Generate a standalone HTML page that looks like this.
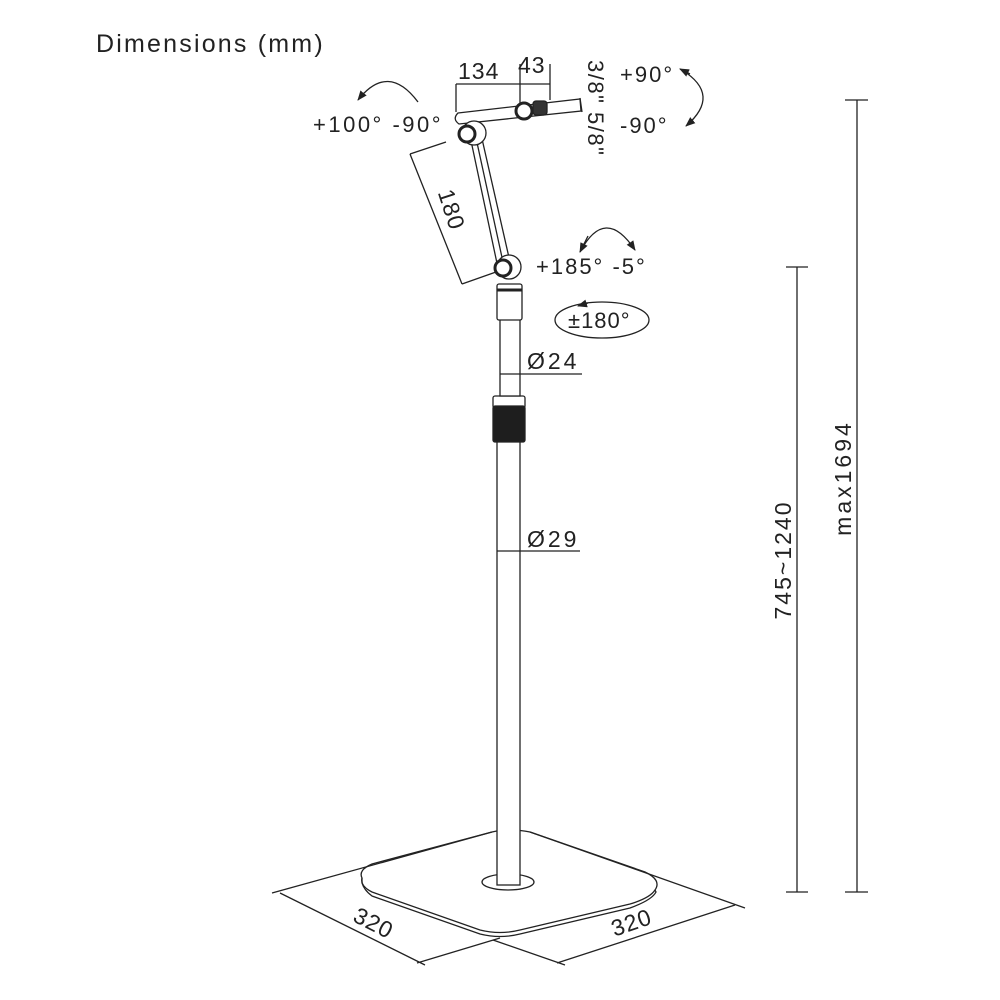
<!DOCTYPE html>
<html><head><meta charset="utf-8"><style>
html,body{margin:0;padding:0;background:#fff;}
svg{display:block;}
text{font-family:"Liberation Sans",sans-serif;fill:#222;}
</style></head><body>
<svg width="1000" height="1000" viewBox="0 0 1000 1000" xmlns="http://www.w3.org/2000/svg">
<defs>
<marker id="ah" markerWidth="10" markerHeight="8" refX="9" refY="4" orient="auto" markerUnits="userSpaceOnUse">
<path d="M0,0 L10,4 L0,8 Z" fill="#222"/></marker>
</defs>
<g stroke="#222" fill="none" stroke-width="1.3">
<text x="96" y="52" font-size="25" letter-spacing="2.2" stroke="none">Dimensions (mm)</text>

<!-- vertical dims -->
<line x1="857" y1="100" x2="857" y2="892"/>
<line x1="845" y1="100" x2="868" y2="100"/>
<line x1="845" y1="892" x2="868" y2="892"/>
<line x1="797" y1="267" x2="797" y2="892"/>
<line x1="786" y1="267" x2="808" y2="267"/>
<line x1="786" y1="892" x2="808" y2="892"/>
<text transform="translate(851,478) rotate(-90)" text-anchor="middle" font-size="23" letter-spacing="3" stroke="none">max1694</text>
<text transform="translate(791,560) rotate(-90)" text-anchor="middle" font-size="23" letter-spacing="2" stroke="none">745~1240</text>

<!-- base -->
<path d="M362,878 Q358,870 372,864 L492,832 Q510,828 530,832 L645,872 Q662,880 655,890 Q650,898 630,904 L520,930 Q500,935 480,930 L372,892 Q360,886 362,878 Z" fill="#fff"/>
<path d="M362,878 L362,883 Q364,890 372,896 L480,934 Q500,939 520,934 L630,908 Q652,900 656,892 L655,890"/>
<ellipse cx="508" cy="882" rx="26" ry="8" fill="#fff"/>
<line x1="272" y1="893" x2="492" y2="832"/>
<line x1="530" y1="832" x2="745" y2="908"/>
<line x1="280" y1="893" x2="425" y2="965"/>
<line x1="417" y1="963" x2="500" y2="938"/>
<line x1="493" y1="940" x2="565" y2="965"/>
<line x1="557" y1="963" x2="735" y2="905"/>
<text transform="translate(370,930) rotate(27)" text-anchor="middle" font-size="23" letter-spacing="1" stroke="none">320</text>
<text transform="translate(634,930) rotate(-19)" text-anchor="middle" font-size="23" letter-spacing="1" stroke="none">320</text>

<!-- lower pole -->
<rect x="497" y="438" width="23" height="447" fill="#fff"/>
<rect x="493" y="396" width="32" height="12" rx="2" fill="#fff"/>
<rect x="493" y="406" width="32" height="36" rx="2" fill="#1e1e1e"/>
<rect x="500" y="318" width="20" height="78" fill="#fff"/>
<rect x="497" y="284" width="25" height="36" rx="2" fill="#fff"/>
<line x1="497" y1="290" x2="522" y2="290" stroke-width="3"/>

<!-- diameters -->
<line x1="500" y1="374" x2="582" y2="374"/>
<text x="527" y="369" font-size="23" letter-spacing="3" stroke="none">Ø24</text>
<line x1="497" y1="551" x2="580" y2="551"/>
<text x="527" y="547" font-size="23" letter-spacing="3" stroke="none">Ø29</text>

<!-- arm -->
<path d="M470,136 L498,268 M480,130 L510,262 M476,138 L503,262" />
<circle cx="509" cy="267" r="12" fill="#fff"/>
<circle cx="503" cy="268" r="8" fill="#fff" stroke-width="3"/>
<path d="M458,113 L580,99 L581,111 L459,124 Q452,119 458,113 Z" fill="#fff"/>
<circle cx="474" cy="133" r="12" fill="#fff"/>
<circle cx="467" cy="134" r="8" fill="#fff" stroke-width="3"/>
<circle cx="524" cy="111" r="8" fill="#fff" stroke-width="3"/>
<rect x="533" y="101" width="14" height="14" rx="3" fill="#333"/>
<line x1="580" y1="98" x2="582" y2="112"/>
<!-- top dims -->
<line x1="456" y1="84" x2="550" y2="84"/>
<line x1="456" y1="84" x2="456" y2="112"/>
<line x1="520" y1="64" x2="520" y2="104"/>
<line x1="550" y1="64" x2="550" y2="100"/>
<text x="458" y="79" font-size="23" letter-spacing="1" stroke="none">134</text>
<text x="518" y="73" font-size="23" letter-spacing="1" stroke="none">43</text>
<text transform="translate(588,60) rotate(90)" font-size="22" letter-spacing="1.5" stroke="none">3/8" 5/8"</text>
<!-- 180 dim -->
<line x1="410" y1="154" x2="462" y2="284"/>
<line x1="410" y1="154" x2="446" y2="142"/>
<line x1="462" y1="284" x2="496" y2="272"/>
<text transform="translate(444,212) rotate(72)" text-anchor="middle" font-size="23" letter-spacing="1" stroke="none">180</text>

<!-- rotation labels -->
<text x="313" y="132" font-size="22" letter-spacing="2.5" stroke="none">+100° -90°</text>
<path d="M418,102 Q388,62 358,100" marker-end="url(#ah)"/>
<text x="620" y="82" font-size="22" letter-spacing="2" stroke="none">+90°</text>
<text x="620" y="133" font-size="22" letter-spacing="2" stroke="none">-90°</text>
<path d="M682,70 Q722,95 686,126" marker-end="url(#ah)"/>
<path d="M690,74 L680,69" marker-end="url(#ah)"/>
<text x="536" y="274" font-size="22" letter-spacing="2" stroke="none">+185°  -5°</text>
<path d="M580,252 Q605,205 635,250" marker-end="url(#ah)"/>
<path d="M588,236 L580,252" marker-end="url(#ah)"/>
<ellipse cx="602" cy="320" rx="47" ry="18"/>
<text x="568" y="328" font-size="22" letter-spacing="1" stroke="none">±180°</text>
<path d="M588,303 L578,306" marker-end="url(#ah)"/>
</g>
</svg>
</body></html>
